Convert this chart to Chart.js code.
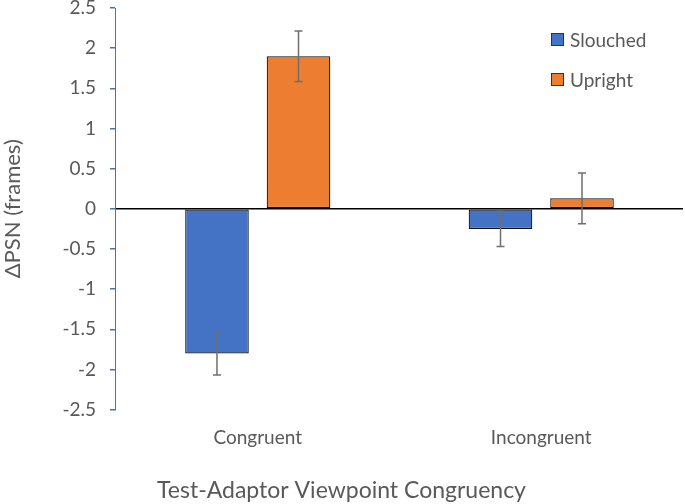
<!DOCTYPE html>
<html>
<head>
<meta charset="utf-8">
<script src="https://cdn.jsdelivr.net/npm/chart.js@4/dist/chart.umd.min.js"></script>
<style>
  html, body { margin: 0; padding: 0; background: #fff; }
  #wrap { position: relative; width: 685px; height: 504px; }
  #legend { position: absolute; left: 551px; top: 26px; font-family: Lato, sans-serif; font-size: 19px; color: #595959; }
  #legend div { display: flex; align-items: center; height: 26px; margin-bottom: 14px; }
  #legend span.box { width: 11px; height: 11px; border: 1px solid #333; margin-right: 6px; }
</style>
</head>
<body>
<div id="wrap">
  <canvas id="chart" width="685" height="504"></canvas>
  <div id="legend"></div>
</div>
<script>
const categories = ['Congruent', 'Incongruent']
const seriesNames = ['Slouched', 'Upright']
const slouched = [-1.80, -0.25]
const upright = [1.90, 0.13]
const slouchedErr = [0.27, 0.22]
const uprightErr = [0.315, 0.315]
const yMin = -2.5
const yMax = 2.5
const yStep = 0.5

const textColour = '#595959'
const colours = ['#4472C4', '#ED7D31']

// draws the error bars from the values above through the y scale
const errorBars = {
  id: 'errorBars',
  afterDatasetsDraw(chart) {
    const ctx = chart.ctx
    const yScale = chart.scales.y
    chart.data.datasets.forEach((ds, i) => {
      const meta = chart.getDatasetMeta(i)
      meta.data.forEach((bar, j) => {
        const v = ds.data[j]
        const e = ds.errors[j]
        const top = yScale.getPixelForValue(v + e)
        const bottom = yScale.getPixelForValue(v - e)
        ctx.save()
        ctx.strokeStyle = '#6f6f6f'
        ctx.lineWidth = 1.5
        ctx.beginPath()
        ctx.moveTo(bar.x, top)
        ctx.lineTo(bar.x, bottom)
        ctx.moveTo(bar.x - 4, top)
        ctx.lineTo(bar.x + 4, top)
        ctx.moveTo(bar.x - 4, bottom)
        ctx.lineTo(bar.x + 4, bottom)
        ctx.stroke()
        ctx.restore()
      })
    })
  }
}

const chart = new Chart(document.getElementById('chart'), {
  type: 'bar',
  data: {
    labels: categories,
    datasets: [
      {
        label: seriesNames[0],
        data: slouched,
        errors: slouchedErr,
        backgroundColor: colours[0],
        borderColor: '#111',
        borderWidth: 1.2,
        borderSkipped: false
      },
      {
        label: seriesNames[1],
        data: upright,
        errors: uprightErr,
        backgroundColor: colours[1],
        borderColor: '#111',
        borderWidth: 1.2,
        borderSkipped: false
      }
    ]
  },
  options: {
    responsive: false,
    animation: false,
    categoryPercentage: 0.575,
    barPercentage: 0.78,
    layout: { padding: { top: 0, right: 2, left: 0, bottom: 0 } },
    plugins: {
      legend: { display: false },
      tooltip: { enabled: false },
      title: {
        display: true,
        position: 'bottom',
        text: 'Test-Adaptor Viewpoint Congruency',
        color: textColour,
        font: { family: 'Lato', size: 23, weight: 'normal' },
        padding: { top: 10, bottom: 0 }
      }
    },
    scales: {
      x: {
        grid: { display: false, drawTicks: false },
        border: { display: false },
        ticks: { color: textColour, font: { family: 'Lato', size: 19 }, padding: 17 }
      },
      y: {
        min: yMin,
        max: yMax,
        afterFit: s => { s.paddingTop = 8; s.paddingBottom = 0 },
        ticks: {
          stepSize: yStep,
          color: textColour,
          font: { family: 'Lato', size: 19 },
          padding: 14,
          callback: v => String(v)
        },
        grid: {
          color: c => c.tick && c.tick.value === 0 ? '#000' : 'rgba(0,0,0,0)',
          lineWidth: 1.5,
          tickColor: colours[0],
          tickLength: 6
        },
        border: { display: true, color: colours[0], width: 1 },
        title: {
          display: true,
          text: 'ΔPSN (frames)',
          color: textColour,
          font: { family: 'Lato', size: 22 },
          padding: { top: 0, bottom: 22 }
        }
      }
    }
  },
  plugins: [errorBars]
})

// legend built from the chart's own datasets
const legend = document.getElementById('legend')
chart.data.datasets.forEach(ds => {
  const row = document.createElement('div')
  const box = document.createElement('span')
  box.className = 'box'
  box.style.background = ds.backgroundColor
  row.appendChild(box)
  row.appendChild(document.createTextNode(ds.label))
  legend.appendChild(row)
})
</script>
</body>
</html>
